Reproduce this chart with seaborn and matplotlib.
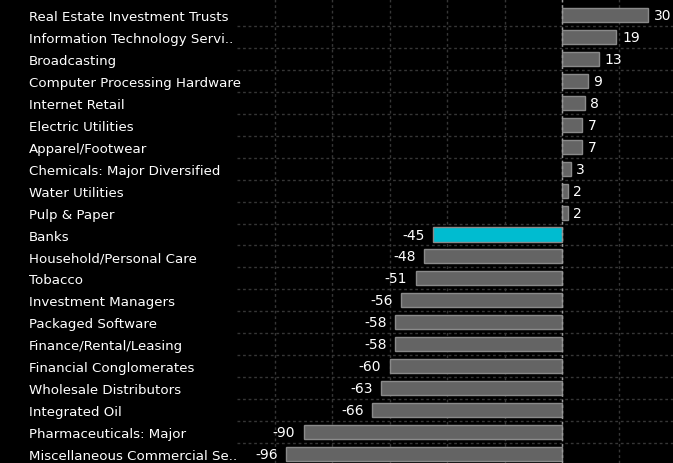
import matplotlib
matplotlib.use("Agg")
import matplotlib.pyplot as plt
import seaborn as sns
import numpy as np

categories = ["Real Estate Investment Trusts", "Information Technology Servi..",
              "Broadcasting", "Computer Processing Hardware", "Internet Retail",
              "Electric Utilities", "Apparel/Footwear", "Chemicals: Major Diversified",
              "Water Utilities", "Pulp & Paper", "Banks", "Household/Personal Care",
              "Tobacco", "Investment Managers", "Packaged Software",
              "Finance/Rental/Leasing", "Financial Conglomerates",
              "Wholesale Distributors", "Integrated Oil", "Pharmaceuticals: Major",
              "Miscellaneous Commercial Se.."]
values = [30, 19, 13, 9, 8, 7, 7, 3, 2, 2, -45, -48, -51, -56, -58, -58, -60,
          -63, -66, -90, -96]
highlight = "Banks"

sns.set_style("dark")
plt.rcParams['font.family'] = ['DejaVu Sans Condensed', 'DejaVu Sans']

colors = ['#00bcd0' if c == highlight else '#646464' for c in categories]

fig = plt.figure(figsize=(6.73, 4.64), dpi=100, facecolor='black')
ax = fig.add_axes([237/673, 0, 1 - 237/673, 1])
ax.set_facecolor('black')

sns.barplot(x=values, y=categories, hue=categories, palette=colors, legend=False,
            orient='h', width=0.64, edgecolor='#8a8a8a', linewidth=1,
            saturation=1, ax=ax)

ax.set_xlim(-113.2, 38.7)
ax.set_ylim(20.41, -0.73)

for s in ax.spines.values():
    s.set_visible(False)

ax.set_xticks(np.arange(-100, 40, 20))
ax.set_xticklabels([])
ax.tick_params(axis='x', length=0)
ax.set_yticks(np.arange(0.5, 20, 1), minor=True)
ax.grid(False)
ax.grid(True, axis='x', which='major', color='#363636', linestyle=(0, (2, 2)), linewidth=1)
ax.grid(True, axis='y', which='minor', color='#363636', linestyle=(0, (2, 2)), linewidth=1)
ax.axvline(0, color='#9a9a9a', linestyle=(0, (2, 2)), linewidth=1, zorder=3)
ax.set_axisbelow(True)

ax.tick_params(axis='y', which='both', length=0, pad=150, colors='white', labelsize=9.6)
for lab in ax.get_yticklabels():
    lab.set_horizontalalignment('left')
ax.set_xlabel('')
ax.set_ylabel('')

for i, v in enumerate(values):
    if v >= 0:
        ax.annotate(str(v), (v, i), xytext=(4, 0), textcoords='offset points',
                    ha='left', va='center', color='white', fontsize=10)
    else:
        ax.annotate(str(v), (v, i), xytext=(-6, 0), textcoords='offset points',
                    ha='right', va='center', color='white', fontsize=10)

fig.savefig("out.png", dpi=100, facecolor='black')
